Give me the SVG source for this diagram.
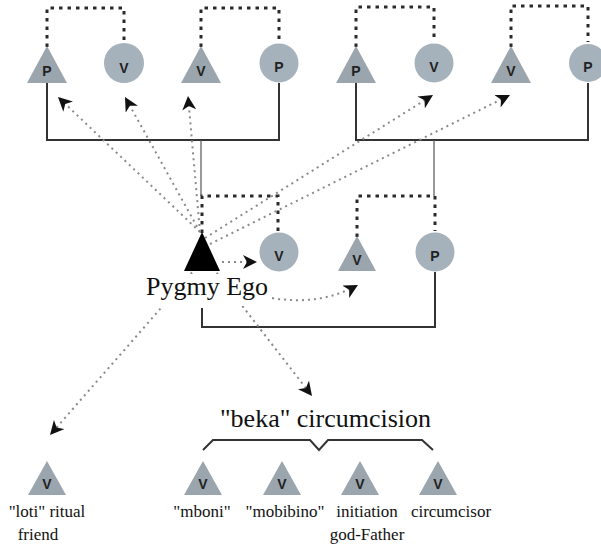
<svg xmlns="http://www.w3.org/2000/svg" width="601" height="549" viewBox="0 0 601 549">
<style>
.kin{fill:none;stroke:#2a2a2a;stroke-width:3;stroke-dasharray:3.5 5}
.sol{fill:none;stroke:#333;stroke-width:2}
.thin{fill:none;stroke:#555;stroke-width:1.2}
.arr{fill:none;stroke:#8a8a8a;stroke-width:2;stroke-dasharray:2 4;marker-end:url(#ah)}
.tri{fill:#9aa5ad}
.cir{fill:#a6b2bb}
.sym{font-family:"Liberation Sans",Arial,sans-serif;font-weight:bold;font-size:14px;fill:#222;text-anchor:middle}
.big{font-family:"Liberation Serif","Times New Roman",serif;font-size:26px;fill:#111}
.lab{font-family:"Liberation Serif","Times New Roman",serif;font-size:17px;fill:#111}
</style>
<defs>
<marker id="ah" markerUnits="userSpaceOnUse" markerWidth="16" markerHeight="14" refX="14" refY="7" orient="auto">
<path d="M0,0 L14,7 L0,14 L4,7 Z" fill="#111"/>
</marker>
</defs>
<rect width="601" height="549" fill="#fff"/>

<g id="connectors">
<path class="kin" d="M47 47 V8 H124 V42"/>
<path class="kin" d="M201 47 V8 H279 V42"/>
<path class="kin" d="M356 47 V7 H434 V42"/>
<path class="kin" d="M511 47 V6 H588 V42"/>
<path class="kin" d="M202 233 V196 H278 V231"/>
<path class="kin" d="M357 237 V196 H435 V231"/>
<path class="sol" d="M47 83 V140 H279 V83"/>
<path class="thin" d="M201 140 V196"/>
<path class="sol" d="M356 83 V140 H588 V83"/>
<path class="thin" d="M434 140 V196"/>
<path class="sol" d="M435 272 V327 H202 V308"/>
<path class="arr" d="M200 232 L58 97"/>
<path class="arr" d="M200 232 L125 97"/>
<path class="arr" d="M200 232 L188 96"/>
<path class="arr" d="M205 238 L433 95"/>
<path class="arr" d="M210 244 L510 95"/>
<path class="arr" d="M222 262 L257 262"/>
<path class="arr" d="M272 298 Q320 306 358 285"/>
<path class="arr" d="M196 268 L50 435"/>
<path class="arr" d="M213 268 L312 396"/>
<path class="sol" d="M203 450 L213 440 H310 L319 450 L328 440 H422 L433 450"/>
</g>

<g id="p1"><path class="tri" d="M47 46 L67 83 L27 83 Z"/><text class="sym" x="47" y="76">P</text></g>
<g id="v1"><circle class="cir" cx="124" cy="63" r="20"/><text class="sym" x="124" y="73">V</text></g>
<g id="v2"><path class="tri" d="M201 46 L221 83 L181 83 Z"/><text class="sym" x="201" y="76">V</text></g>
<g id="p2"><circle class="cir" cx="279" cy="63" r="19.5"/><text class="sym" x="279" y="72">P</text></g>
<g id="p3"><path class="tri" d="M356 46 L376 83 L336 83 Z"/><text class="sym" x="356" y="76">P</text></g>
<g id="v3"><circle class="cir" cx="434" cy="63" r="19.5"/><text class="sym" x="434" y="72">V</text></g>
<g id="v4"><path class="tri" d="M511 46 L531 83 L491 83 Z"/><text class="sym" x="511" y="76">V</text></g>
<g id="p4"><circle class="cir" cx="588" cy="63" r="19"/><text class="sym" x="588" y="72">P</text></g>

<g id="ego">
<path d="M202 232 L220 271 L184 271 Z" fill="#000"/>
<rect x="142" y="274" width="130" height="32" fill="#fff"/>
<text class="big" x="146" y="295">Pygmy Ego</text>
</g>
<g id="v5"><circle class="cir" cx="279" cy="252" r="19.5"/><text class="sym" x="279" y="261">V</text></g>
<g id="v6"><path class="tri" d="M357 236 L376 271 L338 271 Z"/><text class="sym" x="357" y="265">V</text></g>
<g id="p5"><circle class="cir" cx="435" cy="252" r="19.5"/><text class="sym" x="435" y="261">P</text></g>

<g id="beka"><text class="big" x="220" y="427">"beka" circumcision</text></g>

<g id="loti"><path class="tri" d="M47 461 L66 495 L28 495 Z"/><text class="sym" x="47" y="489">V</text>
<text class="lab" x="47" y="517" text-anchor="middle">"loti" ritual</text><text class="lab" x="38" y="540" text-anchor="middle">friend</text></g>
<g id="mboni"><path class="tri" d="M203 461 L222 495 L184 495 Z"/><text class="sym" x="203" y="489">V</text><text class="lab" x="202" y="517" text-anchor="middle">"mboni"</text></g>
<g id="mobibino"><path class="tri" d="M282 461 L301 495 L263 495 Z"/><text class="sym" x="282" y="489">V</text><text class="lab" x="285" y="517" text-anchor="middle">"mobibino"</text></g>
<g id="godfather"><path class="tri" d="M360 461 L379 495 L341 495 Z"/><text class="sym" x="360" y="489">V</text><text class="lab" x="367" y="517" text-anchor="middle">initiation</text><text class="lab" x="367" y="540" text-anchor="middle">god-Father</text></g>
<g id="circumcisor"><path class="tri" d="M438 461 L457 495 L419 495 Z"/><text class="sym" x="438" y="489">V</text><text class="lab" x="451" y="517" text-anchor="middle">circumcisor</text></g>
</svg>
